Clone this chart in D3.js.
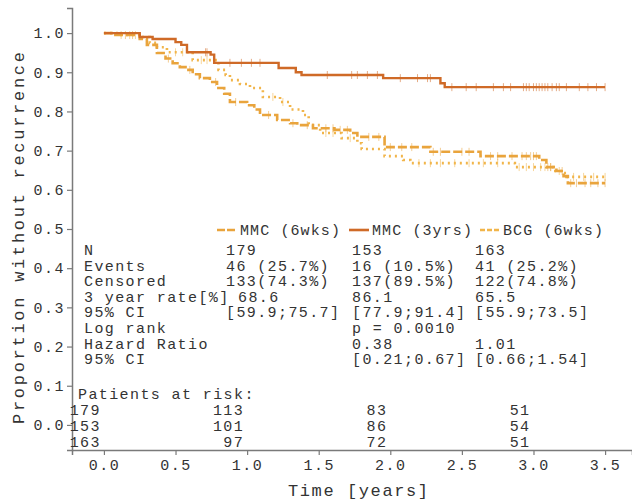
<!DOCTYPE html>
<html>
<head>
<meta charset="utf-8">
<script src="https://cdn.jsdelivr.net/npm/d3@7"></script>
<style>
  body { margin: 0; background: #fff; }
  svg text { font-family: "Liberation Mono", monospace; fill: #333; white-space: pre; }
</style>
</head>
<body>
<svg id="chart" width="632" height="501"></svg>
<script>
// Kaplan-Meier steps (time in years, survival after the step)
var mmc6Times = [0, 0.08, 0.25, 0.30, 0.37, 0.43, 0.48, 0.53, 0.58, 0.62, 0.67, 0.74, 0.79, 0.84, 0.88, 1.00, 1.05, 1.09, 1.21, 1.30, 1.35, 1.46, 1.61, 1.72, 1.77, 1.96, 2.28, 2.63, 3.04, 3.09, 3.16, 3.21, 3.24, 3.50];
var mmc6Surv  = [1, 0.995, 0.985, 0.97, 0.949, 0.935, 0.923, 0.913, 0.906, 0.895, 0.885, 0.875, 0.86, 0.845, 0.824, 0.816, 0.805, 0.791, 0.778, 0.770, 0.765, 0.757, 0.753, 0.745, 0.735, 0.709, 0.697, 0.686, 0.676, 0.658, 0.648, 0.635, 0.617, 0.617];
var mmc6Censor = [0.15, 0.2, 0.45, 0.6, 0.78, 0.92, 1.15, 1.32, 1.42, 1.55, 1.6, 1.65, 1.7, 1.85, 1.92, 2.0, 2.08, 2.15, 2.3, 2.35, 2.5, 2.55, 2.7, 2.75, 2.85, 2.92, 2.95, 2.98, 3.0, 3.02, 3.1, 3.12, 3.2, 3.26, 3.3, 3.36, 3.4, 3.45, 3.5];

var mmc3Times = [0, 0.25, 0.34, 0.50, 0.54, 0.58, 0.745, 0.77, 1.22, 1.34, 1.38, 1.95, 2.35, 2.38, 3.50];
var mmc3Surv  = [1, 0.99, 0.985, 0.977, 0.97, 0.951, 0.945, 0.924, 0.911, 0.90, 0.893, 0.885, 0.872, 0.862, 0.862];
var mmc3Censor = [0.71, 0.72, 0.88, 0.96, 1.03, 1.09, 1.56, 1.73, 1.77, 1.84, 1.91, 2.07, 2.19, 2.26, 2.28, 2.43, 2.53, 2.60, 2.72, 2.79, 2.84, 2.93, 2.95, 2.97, 3.0, 3.02, 3.04, 3.06, 3.08, 3.10, 3.13, 3.16, 3.18, 3.23, 3.32, 3.38, 3.44, 3.50];

var bcgTimes = [0, 0.10, 0.25, 0.32, 0.37, 0.44, 0.62, 0.80, 0.85, 0.88, 0.95, 1.02, 1.11, 1.23, 1.30, 1.39, 1.43, 1.51, 1.66, 1.77, 1.80, 1.96, 2.09, 2.14, 2.87, 3.14, 3.21, 3.23, 3.50];
var bcgSurv  = [1, 0.995, 0.99, 0.975, 0.964, 0.951, 0.931, 0.906, 0.893, 0.880, 0.870, 0.860, 0.837, 0.824, 0.805, 0.791, 0.765, 0.745, 0.732, 0.719, 0.704, 0.686, 0.676, 0.668, 0.658, 0.648, 0.643, 0.633, 0.633];
var bcgCensor = [0.12, 0.18, 0.22, 0.5, 0.55, 0.68, 0.72, 1.18, 1.25, 1.55, 1.6, 1.72, 2.2, 2.28, 2.35, 2.45, 2.55, 2.65, 2.75, 2.9, 2.95, 3.0, 3.05, 3.08, 3.12, 3.18, 3.28, 3.35, 3.42, 3.5];

var groupNames = ["MMC (6wks)", "MMC (3yrs)", "BCG (6wks)"];
var groupColors = ["#e9a43c", "#cf6a27", "#f1b54a"];
var groupDash = ["9,3", null, "2,4"];
var legendDash = ["8,2", null, "5,2"];

var xTicks = [0, 0.5, 1, 1.5, 2, 2.5, 3, 3.5];
var yTicks = [0, 0.1, 0.2, 0.3, 0.4, 0.5, 0.6, 0.7, 0.8, 0.9, 1.0];

var tableLabels = ["N", "Events", "Censored", "3 year rate[%]", "95% CI", "Log rank", "Hazard Ratio", "95% CI"];
var mmc6Col = ["179", "46 (25.7%)", "133(74.3%)", "68.6", "[59.9;75.7]", "", "", ""];
var mmc3Col = ["153", "16 (10.5%)", "137(89.5%)", "86.1", "[77.9;91.4]", "p = 0.0010", "0.38", "[0.21;0.67]"];
var bcgCol  = ["163", "41 (25.2%)", "122(74.8%)", "65.5", "[55.9;73.5]", "", "1.01", "[0.66;1.54]"];

var riskTimes = [0, 1, 2, 3];
var mmc6Risk = [179, 113, 83, 51];
var mmc3Risk = [153, 101, 86, 54];
var bcgRisk  = [163, 97, 72, 51];

var svg = d3.select("#chart");
var x = d3.scaleLinear().domain([-0.223, 3.688]).range([72, 632]);
var y = d3.scaleLinear().domain([-0.064, 1.064]).range([450, 8]);

function mono(sel, size, spacing) {
    return sel.style("font-size", size + "px").style("letter-spacing", spacing + "px");
}

// axes
var xAxis = svg.append("g").attr("transform", "translate(0,450)")
    .call(d3.axisBottom(x).tickValues(xTicks).tickFormat(d3.format(".1f")).tickSize(5).tickPadding(4));
var yAxis = svg.append("g").attr("transform", "translate(72,0)")
    .call(d3.axisLeft(y).tickValues(yTicks).tickFormat(d3.format(".1f")).tickSize(5).tickPadding(2));
[xAxis, yAxis].forEach(function (a) {
    a.select(".domain").attr("stroke", "#7a7a7a").attr("stroke-width", 1.5);
    a.selectAll(".tick line").attr("stroke", "#7a7a7a").attr("stroke-width", 1.2);
    mono(a.selectAll(".tick text"), 15, 1.5).attr("fill", "#333");
});

// axis titles
mono(svg.append("text"), 17, 0)
    .attr("x", 358).attr("y", 496).attr("text-anchor", "middle")
    .attr("textLength", 140).attr("lengthAdjust", "spacing")
    .text("Time [years]");
mono(svg.append("text"), 17, 0)
    .attr("transform", "translate(24,238) rotate(-90)").attr("text-anchor", "middle")
    .attr("textLength", 372).attr("lengthAdjust", "spacing")
    .text("Proportion without recurrence");

// curves
var groups = [
    { times: mmc6Times, surv: mmc6Surv, censor: mmc6Censor },
    { times: mmc3Times, surv: mmc3Surv, censor: mmc3Censor },
    { times: bcgTimes, surv: bcgSurv, censor: bcgCensor }
];

var line = d3.line()
    .x(function (d) { return x(d[0]); })
    .y(function (d) { return y(d[1]); })
    .curve(d3.curveStepAfter);

function survAt(g, t) {
    var s = 1;
    for (var i = 0; i < g.times.length; i++) {
        if (g.times[i] <= t) s = g.surv[i];
    }
    return s;
}

// draw order: dotted, dashed, then solid on top
[2, 0, 1].forEach(function (k) {
    var g = groups[k];
    var pts = g.times.map(function (t, i) { return [t, g.surv[i]]; });
    svg.append("g").selectAll("line.cens")
        .data(g.censor)
        .enter()
        .append("line")
        .attr("x1", function (d) { return x(d); })
        .attr("x2", function (d) { return x(d); })
        .attr("y1", function (d) { return y(survAt(g, d)) - 4; })
        .attr("y2", function (d) { return y(survAt(g, d)) + 4; })
        .attr("stroke", groupColors[k])
        .attr("stroke-opacity", 0.55)
        .attr("stroke-width", 1);
    svg.append("path")
        .datum(pts)
        .attr("d", line)
        .attr("fill", "none")
        .attr("stroke", groupColors[k])
        .attr("stroke-width", k == 1 ? 2.4 : 2.6)
        .attr("stroke-dasharray", groupDash[k]);
});

// legend
var legendX = [217, 349, 480];
groupNames.forEach(function (name, k) {
    svg.append("line")
        .attr("x1", legendX[k]).attr("x2", legendX[k] + 20)
        .attr("y1", 230).attr("y2", 230)
        .attr("stroke", groupColors[k]).attr("stroke-width", 2.6)
        .attr("stroke-dasharray", legendDash[k]);
    mono(svg.append("text"), 15, 1.1)
        .attr("x", legendX[k] + 23).attr("y", 235)
        .text(name);
});

// summary table
var colX = [84, 226, 352, 475];
var cols = [tableLabels, mmc6Col, mmc3Col, bcgCol];
cols.forEach(function (col, c) {
    col.forEach(function (txt, r) {
        if (!txt) return;
        var xx = colX[c];
        // the 3 year rate value sits right after its long label
        if (c == 1 && r == 3) xx = 238;
        mono(svg.append("text"), 15, 1.4)
            .attr("x", xx).attr("y", 255 + r * 15.6)
            .text(txt);
    });
});

// patients at risk
mono(svg.append("text"), 15, 1.4)
    .attr("x", 78).attr("y", 399)
    .text("Patients at risk:");
[mmc6Risk, mmc3Risk, bcgRisk].forEach(function (row, r) {
    svg.append("g").selectAll("text")
        .data(row)
        .enter()
        .append("text")
        .style("font-size", "15px")
        .style("letter-spacing", "1.4px")
        .attr("text-anchor", "end")
        .attr("x", function (d, i) { return x(riskTimes[i]) - 3; })
        .attr("y", 415 + r * 16)
        .text(function (d) { return d; });
});
</script>
</body>
</html>
